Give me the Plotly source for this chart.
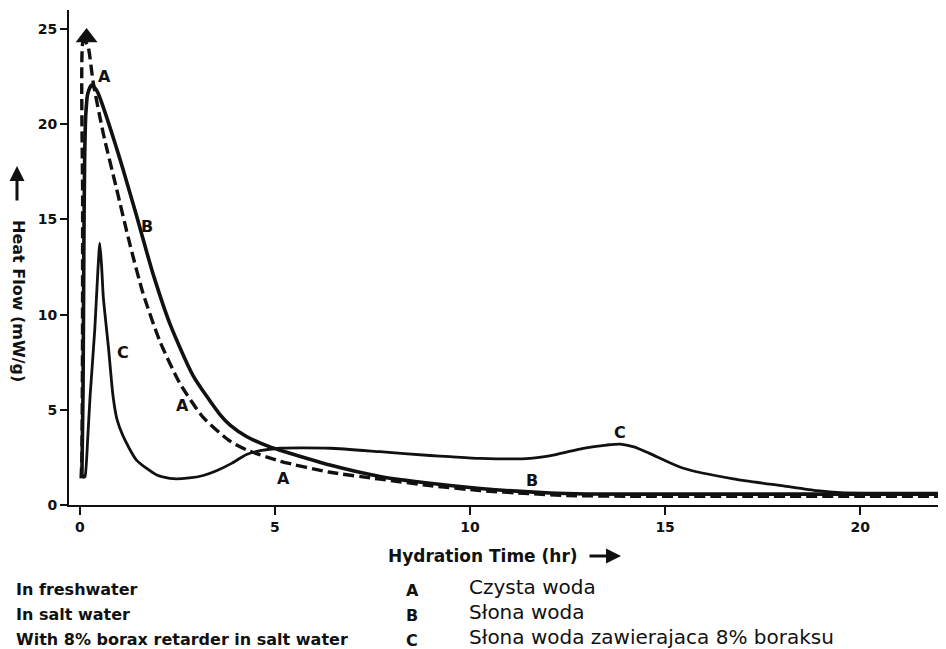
import plotly.graph_objects as go

# ---- data ----
# Curve A: in freshwater (dashed)
a_x = [0.03, 0.05, 0.065, 0.07, 0.075, 0.12, 0.21, 0.34, 0.6, 0.94, 1.28, 1.62, 2.05, 2.56, 3.16,
       3.85, 4.27, 5.13, 6.41, 7.69, 8.97, 10.26, 11.5, 12.5, 14.0, 17.0, 20.0, 22.4]
a_y = [1.4, 2.5, 8.0, 16.0, 24.3, 24.4, 24.07, 22.2, 19.5, 16.6, 13.7, 11.1, 8.6, 6.4, 4.6,
       3.35, 2.9, 2.3, 1.72, 1.36, 1.02, 0.76, 0.6, 0.5, 0.46, 0.46, 0.46, 0.46]

# Curve B: in salt water (solid)
b_x = [0.05, 0.08, 0.1, 0.12, 0.15, 0.2, 0.3, 0.45, 0.68, 0.9, 1.11, 1.45, 1.71, 1.88, 2.31,
       2.9, 3.59, 3.85, 4.27, 4.87, 5.13, 6.41, 7.69, 8.97, 10.26, 12.05, 13.0, 15.0, 18.0, 22.4]
b_y = [1.5, 6.0, 13.2, 18.0, 20.5, 21.6, 22.06, 21.7, 20.4, 19.0, 17.6, 15.2, 13.3, 12.1, 9.5,
       6.8, 4.75, 4.2, 3.6, 3.05, 2.88, 2.1, 1.5, 1.14, 0.87, 0.63, 0.58, 0.57, 0.57, 0.57]

# Curve C: with 8% borax retarder in salt water (solid, thinner)
c_x = [0.05, 0.1, 0.13, 0.2, 0.26, 0.38, 0.46, 0.51, 0.56, 0.6, 0.73, 0.85, 0.95, 1.11, 1.45,
       1.97, 2.39, 2.8, 3.16, 3.5, 3.9, 4.27, 4.62, 5.13, 6.41, 7.69, 8.97, 9.49, 10.26, 11.54,
       12.2, 12.9, 13.5, 13.85, 14.2, 14.6, 15.47, 16.75, 18.03, 18.9, 19.5, 22.4]
c_y = [1.6, 1.45, 1.49, 3.5, 5.7, 9.2, 12.3, 13.76, 12.4, 10.9, 8.3, 5.7, 4.5, 3.6, 2.36,
       1.58, 1.38, 1.42, 1.55, 1.8, 2.2, 2.65, 2.85, 2.98, 2.98, 2.8, 2.6, 2.54, 2.45, 2.45,
       2.65, 2.98, 3.15, 3.2, 3.05, 2.71, 1.93, 1.37, 1.0, 0.75, 0.65, 0.62]

# off-scale arrow on top of curve A
arrow_x = [0.17]
arrow_y = [24.55]

# curve letter labels inside the plot
label_text = ["A", "B", "C", "A", "A", "B", "C"]
label_x = [0.64, 1.72, 1.1, 2.64, 5.23, 11.6, 13.85]
label_y = [22.5, 14.65, 8.0, 5.25, 1.4, 1.3, 3.8]

x_ticks = [0, 5, 10, 15, 20]
y_ticks = [0, 5, 10, 15, 20, 25]

legend_en = ["In freshwater", "In salt water", "With 8% borax retarder in salt water"]
legend_letters = ["A", "B", "C"]
legend_pl = ["Czysta woda", "Słona woda", "Słona woda zawierajaca 8% boraksu"]

# ---- figure ----
W, H = 946, 649
OFF = 8  # page body margin
ML, MR, MT, MB = 61, 8, 2, 152
PW, PH = W - ML - MR, H - MT - MB
X0, Y0 = ML + OFF, H - MB + OFF  # window pixel position of plot-area corner


def px(x):
    return (x - X0) / PW


def py(y):
    return (Y0 - y) / PH


FONT = "DejaVu Sans, Verdana, sans-serif"

fig = go.Figure()
fig.add_trace(go.Scatter(x=b_x, y=b_y, mode="lines",
                         line=dict(color="#111", width=3.6, shape="spline", smoothing=0.6),
                         showlegend=False, hoverinfo="skip"))
fig.add_trace(go.Scatter(x=c_x, y=c_y, mode="lines",
                         line=dict(color="#111", width=2.8, shape="spline", smoothing=0.6),
                         showlegend=False, hoverinfo="skip"))
fig.add_trace(go.Scatter(x=a_x, y=a_y, mode="lines",
                         line=dict(color="#111", width=3.4, dash="11px,5px", shape="spline",
                                   smoothing=0.6),
                         showlegend=False, hoverinfo="skip"))
fig.add_trace(go.Scatter(x=arrow_x, y=arrow_y, mode="markers",
                         marker=dict(symbol="triangle-up", size=19, color="#111"),
                         showlegend=False, hoverinfo="skip"))

annotations = []
for t, x, y in zip(label_text, label_x, label_y):
    annotations.append(dict(x=x, y=y, xref="x", yref="y", text="<b>%s</b>" % t, showarrow=False,
                            xanchor="center", yanchor="middle",
                            font=dict(family=FONT, size=16, color="#111")))

# y-axis title (rotated, reading top to bottom) with upward arrow
annotations.append(dict(x=px(19), y=py(301), xref="paper", yref="paper",
                        xanchor="center", yanchor="middle",
                        text="<b>Heat Flow (mW/g)</b>", textangle=90, showarrow=False,
                        font=dict(family=FONT, size=16, color="#111")))
annotations.append(dict(x=px(17), y=py(166), xref="paper", yref="paper", text="",
                        showarrow=True, arrowhead=2, arrowsize=1.0, arrowwidth=3,
                        arrowcolor="#111", ax=0, ay=36))

# x-axis title with right arrow
annotations.append(dict(x=px(386), y=py(556), xref="paper", yref="paper",
                        xanchor="left", yanchor="middle",
                        text="<b>Hydration Time (hr)</b>", showarrow=False,
                        font=dict(family=FONT, size=17, color="#111")))
annotations.append(dict(x=px(621), y=py(556), xref="paper", yref="paper", text="",
                        showarrow=True, arrowhead=2, arrowsize=1.0, arrowwidth=3,
                        arrowcolor="#111", ax=-33, ay=0))

rows = [589, 614, 639]
for i in range(3):
    annotations.append(dict(x=px(14), y=py(rows[i]), xref="paper", yref="paper",
                            xanchor="left", yanchor="middle",
                            text="<b>%s</b>" % legend_en[i], showarrow=False,
                            font=dict(family=FONT, size=16, color="#111")))
    annotations.append(dict(x=px(412), y=py(rows[i] + 1), xref="paper", yref="paper",
                            xanchor="center", yanchor="middle",
                            text="<b>%s</b>" % legend_letters[i], showarrow=False,
                            font=dict(family=FONT, size=16, color="#111")))
    annotations.append(dict(x=px(467), y=py(rows[i] - 2), xref="paper", yref="paper",
                            xanchor="left", yanchor="middle",
                            text=legend_pl[i], showarrow=False,
                            font=dict(family=FONT, size=20, color="#111")))

fig.update_layout(
    width=W, height=H,
    margin=dict(l=ML, r=MR, t=MT, b=MB),
    paper_bgcolor="white", plot_bgcolor="white",
    annotations=annotations,
    xaxis=dict(range=[-0.28, 22.2], tickvals=x_ticks, ticktext=["<b>%d</b>" % v for v in x_ticks],
               ticks="outside", ticklen=8, tickwidth=2, tickcolor="#111",
               showline=True, linecolor="#111", linewidth=2, showgrid=False, zeroline=False,
               tickfont=dict(family=FONT, size=14, color="#111")),
    yaxis=dict(range=[0, 26], tickvals=y_ticks, ticktext=["<b>%d</b>" % v for v in y_ticks],
               ticks="outside", ticklen=7, tickwidth=2, tickcolor="#111",
               showline=True, linecolor="#111", linewidth=2, showgrid=False, zeroline=False,
               tickfont=dict(family=FONT, size=14, color="#111")),
)

fig.write_html("out.html")
